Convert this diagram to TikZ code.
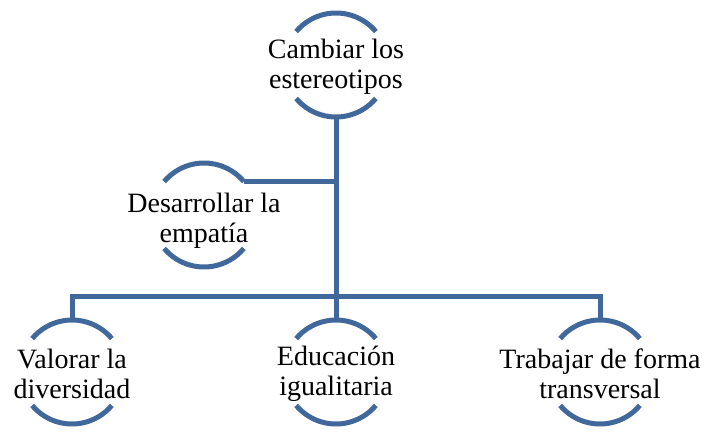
\documentclass[tikz,border=0pt]{standalone}
\usepackage{fontspec}
\setmainfont{Liberation Serif}
\usepackage{tikz}
\usetikzlibrary{positioning}
\definecolor{ringblue}{RGB}{64,104,154}

\begin{document}
\begin{tikzpicture}[x=1pt, y=1pt, line width=5pt,
  ring/.style={draw=ringblue, line cap=butt},
  link/.style={draw=ringblue, line cap=butt, line join=miter},
  item/.style={align=center, inner sep=0pt, font=\fontsize{28}{30}\selectfont}]
\useasboundingbox (0,0) rectangle (711,432);
\node[item] at (336,365) (top) {Cambiar los\\estereotipos};
\node[item] at (204,211) (dev) {Desarrollar la\\empatía};
\node[item] at (72,58) (val) {Valorar la\\diversidad};
\node[item] at (336,58) (edu) {Educación\\igualitaria};
\node[item] at (600,58) (tra) {Trabajar de forma\\transversal};
% ring centres sit a little above the text
\foreach \n/\dy in {top/2,dev/6,val/2,edu/2,tra/2}
  \coordinate (c\n) at ([yshift=\dy pt]\n.center);
\coordinate (bus) at (336,136);
% arcs above and below each text
\foreach \n in {top,dev,val,edu,tra} {
  \draw[ring] ([shift={(40:52pt)}]c\n) arc[start angle=40, end angle=140, radius=52pt];
  \draw[ring] ([shift={(220:52pt)}]c\n) arc[start angle=220, end angle=320, radius=52pt];
}
\coordinate (devend) at ([shift={(40:52pt)}]cdev);
\coordinate (topend) at ([shift={(0,-52pt)}]ctop);
\draw[link] (devend) -- (devend -| bus);
\draw[link] (topend) -- (bus);
\draw[link] ([shift={(0,52pt)}]cval) |- (bus) -| ([shift={(0,52pt)}]ctra);
\draw[link] (bus) -- ([shift={(0,52pt)}]cedu);
\end{tikzpicture}
\end{document}
